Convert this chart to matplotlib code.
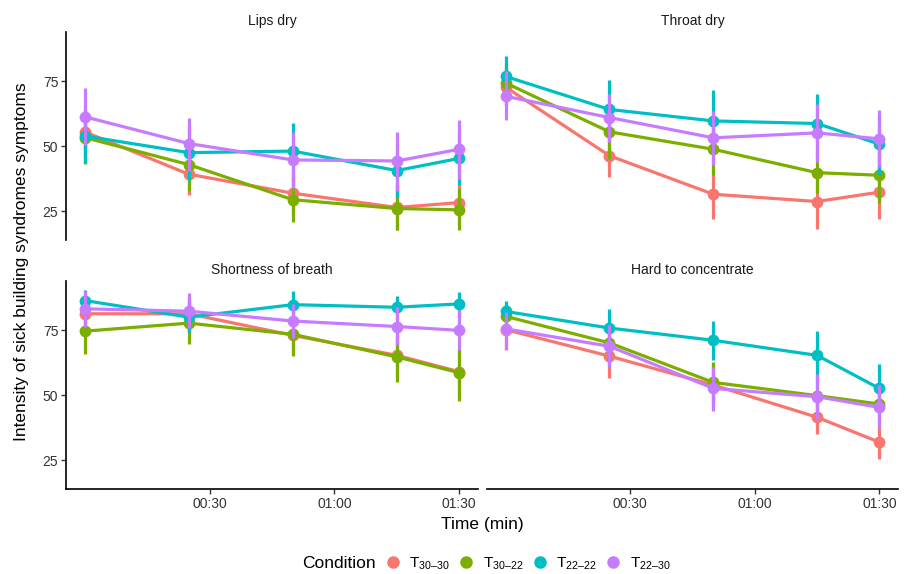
import matplotlib
matplotlib.use('Agg')
import matplotlib.pyplot as plt
from matplotlib.lines import Line2D

plt.rcParams['font.family'] = ['Liberation Sans', 'DejaVu Sans']
plt.rcParams['mathtext.fontset'] = 'custom'
plt.rcParams['mathtext.rm'] = 'Liberation Sans'
plt.rcParams['mathtext.it'] = 'Liberation Sans:italic'

# ---------------- data ----------------
times = [0, 25, 50, 75, 90]
tick_minutes = [30, 60, 90]
tick_labels = ['00:30', '01:00', '01:30']
y_ticks = [25, 50, 75]
panel_titles = ['Lips dry', 'Throat dry', 'Shortness of breath', 'Hard to concentrate']
conditions = ['T$_{\\mathregular{30–30}}$', 'T$_{\\mathregular{30–22}}$',
              'T$_{\\mathregular{22–22}}$', 'T$_{\\mathregular{22–30}}$']
colors = ['#F8766D', '#7CAE00', '#00BFC4', '#C77CFF']

# order within each panel: T30-30, T30-22, T22-22, T22-30
lips_mean = [[55.6, 39.3, 32.0, 26.5, 28.4],
             [53.4, 43.0, 29.5, 26.1, 25.6],
             [54.0, 47.6, 48.2, 40.7, 45.4],
             [61.4, 51.1, 44.8, 44.4, 48.9]]
lips_lo = [[46, 31.4, 24, 17.7, 20],
           [43.2, 33, 20.8, 17.7, 17.7],
           [43.5, 37, 37, 30.7, 35],
           [50.5, 40.5, 34, 33, 37.5]]
lips_hi = [[64, 47, 40, 35, 37],
           [64, 53, 38, 35, 34],
           [64, 58, 59, 51, 56],
           [72.4, 61, 55.6, 55.6, 60]]

throat_mean = [[72.8, 46.4, 31.6, 28.8, 32.4],
               [74.4, 55.6, 48.9, 39.9, 38.9],
               [76.9, 64.2, 59.8, 58.8, 50.9],
               [69.3, 61.1, 53.3, 55.2, 52.9]]
throat_lo = [[66, 38.4, 22.2, 18.4, 22.2],
             [66, 45, 39, 32, 28.2],
             [69, 53, 48, 47, 39],
             [60, 51.8, 42.9, 44, 42]]
throat_hi = [[80, 55, 41, 39, 43],
             [82, 66, 59, 48, 50],
             [84.7, 75.6, 71.6, 70.3, 62],
             [79, 70, 63.6, 66.2, 63.9]]

breath_mean = [[81.4, 81.4, 73.1, 65.4, 59.1],
               [74.7, 77.8, 73.5, 64.8, 58.7],
               [86.5, 80.1, 84.9, 83.9, 85.2],
               [83.3, 82.4, 78.6, 76.5, 75.0]]
breath_lo = [[75, 74, 66, 57, 49],
             [65.8, 69.6, 65, 55.2, 48],
             [81, 74.4, 80, 79, 80],
             [76.3, 76, 72, 69.3, 67.3]]
breath_hi = [[88, 88, 80, 73, 68],
             [83, 86, 82, 74, 68],
             [90.6, 86, 90, 88.4, 89.7],
             [90.3, 89.3, 85.2, 84, 83]]

concentrate_mean = [[75.3, 65.1, 54.0, 41.6, 32.0],
                    [80.4, 70.2, 55.0, 49.9, 46.7],
                    [82.3, 75.9, 71.2, 65.4, 52.7],
                    [75.6, 68.9, 52.7, 49.5, 45.4]]
concentrate_lo = [[67.3, 56.8, 46, 35, 25.6],
                  [76, 62, 47, 42, 39],
                  [78, 68, 63.8, 57, 44],
                  [68, 61, 44.1, 41, 37.4]]
concentrate_hi = [[83, 73, 62, 48, 38.5],
                  [85, 78, 62.9, 58, 54],
                  [86.5, 83.3, 78.6, 74.6, 62],
                  [82, 77, 61, 58.2, 54]]

panel_data = [(lips_mean, lips_lo, lips_hi),
              (throat_mean, throat_lo, throat_hi),
              (breath_mean, breath_lo, breath_hi),
              (concentrate_mean, concentrate_lo, concentrate_hi)]

# ---------------- figure ----------------
W, H = 912, 574
fig = plt.figure(figsize=(W / 100, H / 100), dpi=100)

rects = [(66, 32, 478, 240), (487, 32, 898, 240),
         (66, 281, 478, 489), (487, 281, 898, 489)]
text_col = '#333333'

for i, (x0, y0, x1, y1) in enumerate(rects):
    ax = fig.add_axes([x0 / W, 1 - y1 / H, (x1 - x0) / W, (y1 - y0) / H])
    means, los, his = panel_data[i]
    for k in range(4):
        ax.vlines(times, los[k], his[k], color=colors[k], lw=2.3, zorder=2 + k)
        ax.plot(times, means[k], color=colors[k], lw=2.3, marker='o', ms=8.5,
                markeredgewidth=0, zorder=2 + k)
    ax.set_xlim(-4.5, 94.5)
    ax.set_ylim(14, 94)
    for s in ['top', 'right']:
        ax.spines[s].set_visible(False)
    for s in ['left', 'bottom']:
        ax.spines[s].set_linewidth(1.2)
        ax.spines[s].set_color('black')
    ax.set_xticks(tick_minutes)
    ax.set_xticklabels(tick_labels)
    ax.set_yticks(y_ticks)
    ax.tick_params(length=3.5, width=1.0, color='#333333', labelsize=10,
                   labelcolor=text_col, pad=2)
    if i < 2:
        ax.spines['bottom'].set_visible(False)
        ax.tick_params(axis='x', bottom=False, labelbottom=False)
    if i % 2 == 1:
        ax.spines['left'].set_visible(False)
        ax.tick_params(axis='y', left=False, labelleft=False)
    ax.set_title(panel_titles[i], fontsize=10, color='#1a1a1a', pad=5)

fig.text(22 / W, 1 - 262 / H, 'Intensity of sick building syndromes symptoms',
         rotation=90, ha='center', va='center', fontsize=12.5, color='black')
fig.text(482 / W, 1 - 524 / H, 'Time (min)', ha='center', va='center',
         fontsize=12.5, color='black')

fig.text(376 / W, 1 - 564 / H, 'Condition', ha='right', va='center',
         fontsize=12.5, color='black')
handles = [Line2D([], [], color=c, marker='o', ls='none', ms=9, markeredgewidth=0)
           for c in colors]
leg = fig.legend(handles, conditions, loc='center left',
                 bbox_to_anchor=(385 / W, 1 - 564 / H), ncol=4, frameon=False,
                 fontsize=11, handlelength=1.0, handletextpad=0.6,
                 columnspacing=0.55, borderaxespad=0, borderpad=0)

fig.savefig('out.png', dpi=100)
